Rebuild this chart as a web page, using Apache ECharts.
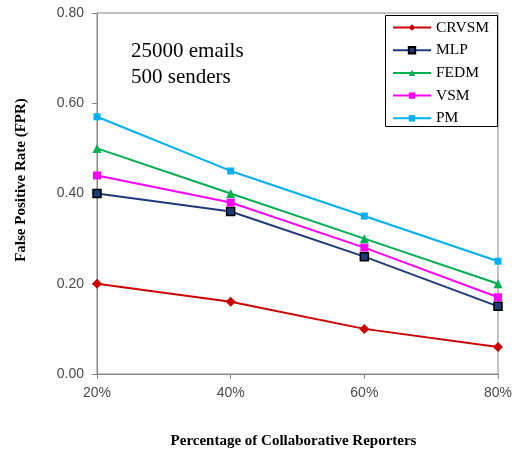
<!DOCTYPE html>
<html><head><meta charset="utf-8">
<script src="https://cdn.jsdelivr.net/npm/echarts@6/dist/echarts.min.js"></script>
<style>html,body{margin:0;padding:0;background:#fff}#c{width:512px;height:451px}</style>
</head><body><div id="c"></div>
<script>
var categories = ['20%', '40%', '60%', '80%'];
var seriesNames = ['CRVSM', 'MLP', 'FEDM', 'VSM', 'PM'];
var crvsm = [0.20, 0.16, 0.10, 0.06];
var mlp = [0.40, 0.36, 0.26, 0.15];
var fedm = [0.50, 0.40, 0.30, 0.20];
var vsm = [0.44, 0.38, 0.28, 0.17];
var pm = [0.57, 0.45, 0.35, 0.25];
var yTicks = [0, 0.2, 0.4, 0.6, 0.8];

var chart = echarts.init(document.getElementById('c'), null, {renderer: 'canvas'});
var serif = '"Liberation Serif", "Times New Roman", serif';
var sans = '"Liberation Sans", Arial, sans-serif';
var axisGray = '#868686';
function mk(name, data, color, symbol, size, borderColor) {
  return {
    name: name, type: 'line', data: data, symbol: symbol, symbolSize: size,
    showAllSymbol: true,
    lineStyle: {color: color, width: 2},
    itemStyle: {color: color, borderColor: borderColor || color, borderWidth: borderColor ? 1.5 : 0},
    z: 3
  };
}
chart.setOption({
  animation: false,
  backgroundColor: '#fff',
  grid: {left: 97, right: 14, top: 13, bottom: 77, show: true, borderColor: axisGray, borderWidth: 1,
    containLabel: false, outerBoundsMode: 'none'},
  xAxis: {
    type: 'category', data: categories, boundaryGap: false,
    axisLine: {lineStyle: {color: axisGray, width: 1}},
    axisTick: {show: true, length: 5, alignWithLabel: true, lineStyle: {color: axisGray}},
    axisLabel: {color: '#4a4a4a', fontFamily: sans, fontSize: 14, margin: 12},
    name: 'Percentage of Collaborative Reporters', nameLocation: 'middle', nameGap: 60,
    nameTextStyle: {fontFamily: serif, fontWeight: 'bold', fontSize: 15, color: '#000', padding: [0, 8, 0, 0]}
  },
  yAxis: {
    type: 'value', min: 0, max: 0.8, interval: 0.2,
    axisLine: {show: true, lineStyle: {color: axisGray, width: 1}},
    axisTick: {show: true, length: 5, lineStyle: {color: axisGray}},
    splitLine: {show: false},
    axisLabel: {color: '#4a4a4a', fontFamily: sans, fontSize: 14, margin: 13,
      formatter: function (v) { return v.toFixed(2); }}
  },
  legend: {
    orient: 'vertical', left: 387, top: 14, data: seriesNames,
    itemWidth: 38, itemHeight: 8, itemGap: 5.7,
    textStyle: {fontFamily: serif, fontSize: 15.5, color: '#000', lineHeight: 17},
    backgroundColor: 'transparent'
  },
  graphic: [
    {type: 'rect', shape: {x: 385.5, y: 15.5, width: 112, height: 111}, style: {fill: '#fff', stroke: '#000', lineWidth: 1}, z: 1},
    {type: 'text', left: 131, top: 38, style: {text: '25000 emails\n500 senders', font: '21px "Liberation Serif", serif', fill: '#000', lineHeight: 26}, z: 5},
    {type: 'text', x: 21.5, y: 180, rotation: Math.PI / 2,
      style: {text: 'False Positive Rate (FPR)', font: 'bold 15px "Liberation Serif", serif', fill: '#000', align: 'center', verticalAlign: 'middle'}, z: 5}
  ],
  series: [
    mk('CRVSM', crvsm, '#CC0000', 'diamond', 10),
    mk('MLP', mlp, '#1F3A78', 'rect', 8, '#000'),
    mk('FEDM', fedm, '#00B050', 'triangle', 9),
    mk('VSM', vsm, '#FF00FF', 'rect', 8),
    mk('PM', pm, '#00B0F0', 'rect', 7)
  ]
});
</script></body></html>
